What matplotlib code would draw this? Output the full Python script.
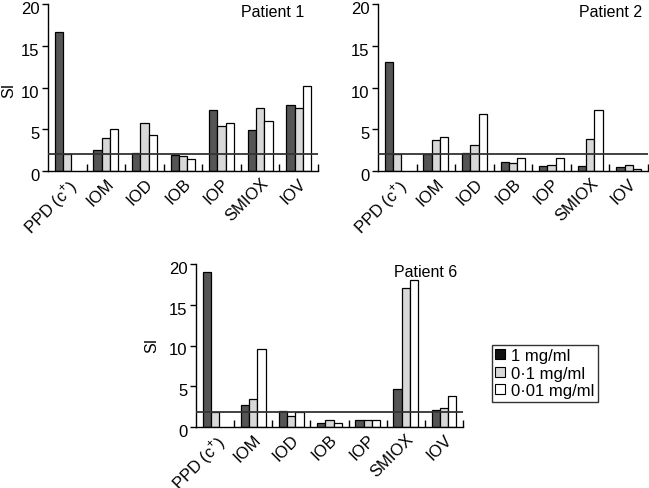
import matplotlib
matplotlib.use("Agg")
import matplotlib.pyplot as plt
import matplotlib.transforms as mtransforms
from matplotlib.patches import Patch
import numpy as np

plt.rcParams['font.family'] = ['Liberation Sans', 'DejaVu Sans']
plt.rcParams['mathtext.fontset'] = 'custom'
plt.rcParams['mathtext.rm'] = 'Liberation Sans'

categories = ["PPD (c$^{+}$)", "IOM", "IOD", "IOB", "IOP", "SMIOX", "IOV"]
series_labels = ["1 mg/ml", "0\u00b71 mg/ml", "0\u00b701 mg/ml"]
nan = float('nan')

p1_1mg = [16.7, 2.5, 2.15, 1.9, 7.3, 4.9, 7.9]
p1_01mg = [2.0, 4.0, 5.8, 1.75, 5.4, 7.5, 7.5]
p1_001mg = [nan, 5.0, 4.3, 1.4, 5.8, 6.0, 10.2]

p2_1mg = [13.1, 2.0, 2.15, 1.1, 0.55, 0.55, 0.45]
p2_01mg = [2.0, 3.7, 3.1, 0.9, 0.75, 3.8, 0.7]
p2_001mg = [nan, 4.1, 6.8, 1.5, 1.5, 7.25, 0.25]

p6_1mg = [19.0, 2.7, 2.0, 0.45, 0.8, 4.7, 2.1]
p6_01mg = [1.9, 3.45, 1.4, 0.8, 0.8, 17.0, 2.3]
p6_001mg = [nan, 9.6, 1.9, 0.45, 0.9, 18.0, 3.75]

thresholds = [2.0, 2.0, 1.9]
titles = ["Patient 1", "Patient 2", "Patient 6"]
yticks = [0, 5, 10, 15, 20]

W, H = 649, 489
fig = plt.figure(figsize=(W / 100, H / 100), dpi=100)

def rect(l, r, t, b):
    return [l / W, 1 - b / H, (r - l) / W, (b - t) / H]

axes_px = [(48, 318, 5, 172), (378, 648, 5, 172), (196, 463, 265, 428)]
ylabel_px = [(9, 90), None, (152, 345)]
title_x = [0.95, 0.98, 0.98]
data = [(p1_1mg, p1_01mg, p1_001mg), (p2_1mg, p2_01mg, p2_001mg), (p6_1mg, p6_01mg, p6_001mg)]
colors = ["#555555", "#d8d8d8", "#ffffff"]
w = 0.215

for k, (px, series) in enumerate(zip(axes_px, data)):
    ax = fig.add_axes(rect(*px))
    x = np.arange(len(categories)) + 0.5
    for j, vals in enumerate(series):
        ax.bar(x + (j - 1) * w, vals, width=w, color=colors[j], edgecolor="black", linewidth=0.9)
    ax.axhline(thresholds[k], color="#333333", linewidth=1.3, zorder=5)
    ax.set_xlim(0, len(categories))
    ax.set_ylim(0, 20)
    ax.set_yticks(yticks)
    ax.tick_params(axis='y', direction='out', length=4, labelsize=12, width=1, pad=2)
    yoff = mtransforms.ScaledTranslation(0, -3 / 100, fig.dpi_scale_trans)
    for lab in ax.get_yticklabels():
        lab.set_transform(lab.get_transform() + yoff)
    ax.set_xticks(np.arange(1, len(categories) + 1))
    ax.tick_params(axis='x', direction='in', length=5, width=1, labelbottom=False)
    ax.set_xticks(x, minor=True)
    ax.set_xticklabels(categories, minor=True)
    ax.tick_params(axis='x', which='minor', length=0, labelsize=12, pad=3)
    for lab in ax.get_xticklabels(minor=True):
        lab.set_rotation(45)
        lab.set_ha('right')
        lab.set_va('top')
        lab.set_rotation_mode('anchor')
    for s in ['top', 'right']:
        ax.spines[s].set_visible(False)
    for s in ['left', 'bottom']:
        ax.spines[s].set_linewidth(1)
    ax.text(title_x[k], 1.0, titles[k], transform=ax.transAxes, ha='right', va='top', fontsize=11.5)
    if ylabel_px[k] is not None:
        lx, ly = ylabel_px[k]
        fig.text(lx / W, 1 - ly / H, "SI", rotation=90, ha='center', va='center', fontsize=11.5)

handles = [Patch(facecolor=c, edgecolor='black', linewidth=0.8) for c in ["#111111", "#d8d8d8", "#ffffff"]]
fig.legend(handles, series_labels, loc='upper left', bbox_to_anchor=(492 / W, 1 - 346 / H),
           fontsize=12, frameon=True, fancybox=False, edgecolor='black', handlelength=0.55,
           handleheight=0.55, handletextpad=0.4, borderpad=0.2, labelspacing=0.15, borderaxespad=0)

fig.savefig("out.png", dpi=100)
